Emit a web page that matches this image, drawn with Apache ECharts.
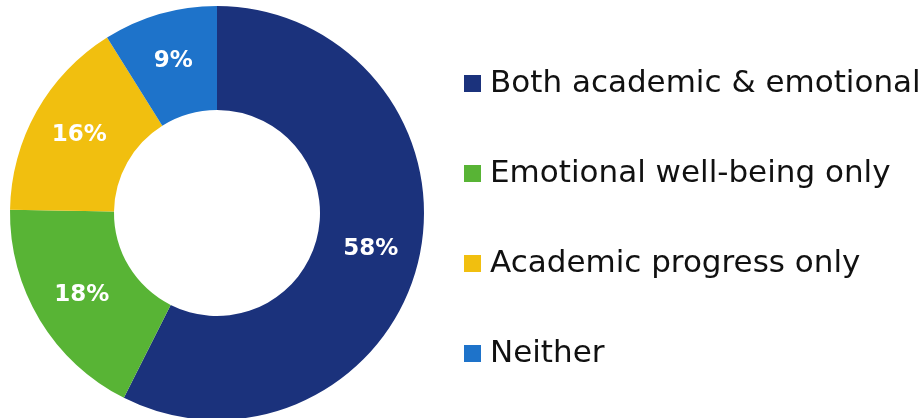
<!DOCTYPE html>
<html>
<head>
<meta charset="utf-8">
<script src="https://cdn.jsdelivr.net/npm/echarts@6/dist/echarts.min.js"></script>
<style>
  html, body { margin: 0; padding: 0; background: #ffffff; }
  #chart { width: 923px; height: 418px; }
</style>
</head>
<body>
<div id="chart"></div>
<script>
// Share of respondents by type of support
const categories = ['Both academic & emotional', 'Emotional well-being only', 'Academic progress only', 'Neither'];
const shares = [58, 18, 16, 9];
const colors = ['#1b327c', '#58b435', '#f1bf0f', '#1e73ca'];

const chart = echarts.init(document.getElementById('chart'), null, { renderer: 'canvas' });

chart.setOption({
  animation: false,
  backgroundColor: '#ffffff',
  color: colors,
  legend: {
    orient: 'vertical',
    left: 464,
    top: 68,
    padding: 0,
    icon: 'rect',
    itemWidth: 17,
    itemHeight: 17,
    itemGap: 59,
    selectedMode: false,
    textStyle: {
      fontFamily: 'DejaVu Sans',
      fontSize: 31,
      lineHeight: 30,
      color: '#111111',
      padding: [0, 0, 0, 4]
    },
    data: categories
  },
  series: [{
    type: 'pie',
    center: [217, 213],
    radius: [103, 207],
    startAngle: 90,
    clockwise: true,
    avoidLabelOverlap: false,
    label: {
      show: true,
      position: 'inside',
      formatter: '{c}%',
      color: '#ffffff',
      fontFamily: 'DejaVu Sans',
      fontWeight: 'bold',
      fontSize: 23
    },
    labelLine: { show: false },
    emphasis: { disabled: true },
    data: categories.map((name, i) => ({ name: name, value: shares[i] }))
  }]
});
</script>
</body>
</html>
